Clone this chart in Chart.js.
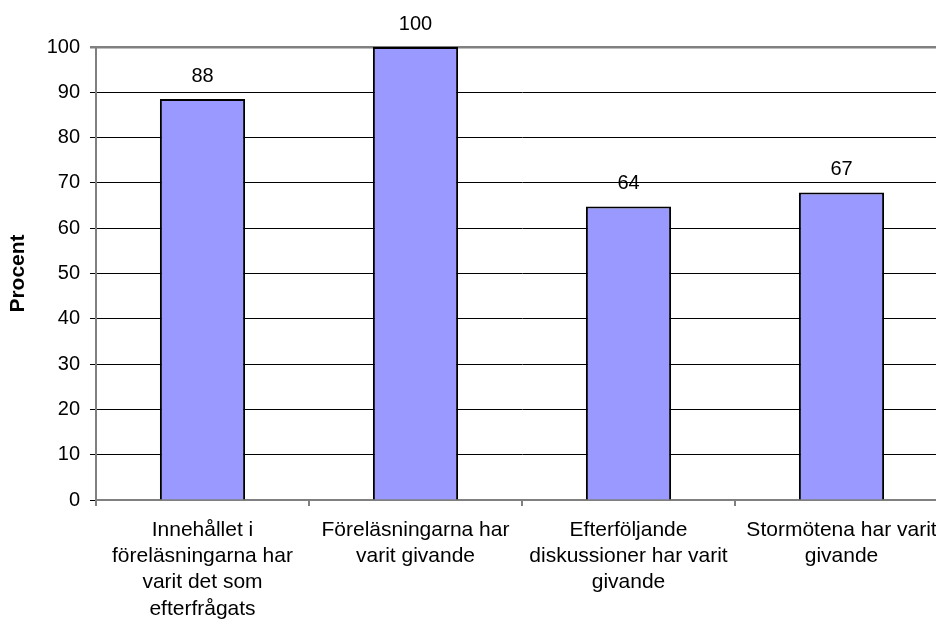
<!DOCTYPE html>
<html>
<head>
<meta charset="utf-8">
<script src="https://cdn.jsdelivr.net/npm/chart.js@4/dist/chart.umd.min.js"></script>
<style>
  html, body { margin: 0; padding: 0; background: #fff; overflow: hidden; }
  #wrap { position: absolute; left: 0; top: 0; width: 960px; height: 624px; }
</style>
</head>
<body>
<div id="wrap"><canvas id="chart"></canvas></div>
<script>
const categories = [
  ["Innehållet i", "föreläsningarna har", "varit det som", "efterfrågats"],
  ["Föreläsningarna har", "varit givande"],
  ["Efterföljande", "diskussioner har varit", "givande"],
  ["Stormötena har varit", "givande"]
];
const values = [88.5, 100, 64.8, 67.9];
const valueLabels = ["88", "100", "64", "67"];
const yTicks = [0, 10, 20, 30, 40, 50, 60, 70, 80, 90, 100];

const FONT = "'Liberation Sans', Arial, sans-serif";

// labels above the bars
const barLabels = {
  id: "barLabels",
  afterDatasetsDraw(chart) {
    const ctx = chart.ctx;
    const meta = chart.getDatasetMeta(0);
    ctx.save();
    ctx.font = "20px " + FONT;
    ctx.fillStyle = "#000";
    ctx.textAlign = "center";
    ctx.textBaseline = "alphabetic";
    meta.data.forEach((bar, i) => {
      ctx.fillText(valueLabels[i], bar.x, bar.y - 17);
    });
    ctx.restore();
  }
};

new Chart(document.getElementById("chart").getContext("2d"), {
  type: "bar",
  data: {
    labels: categories,
    datasets: [{
      data: values,
      backgroundColor: "#9999FF",
      borderColor: "#000",
      borderWidth: 2,
      barPercentage: 0.4,
      categoryPercentage: 1.0
    }]
  },
  options: {
    responsive: true,
    maintainAspectRatio: false,
    animation: false,
    layout: { padding: { top: 47, right: 12, bottom: 0, left: 0 } },
    plugins: {
      legend: { display: false },
      tooltip: { enabled: false }
    },
    scales: {
      x: {
        afterFit(scale) { scale.height = 124; },
        border: { color: "#808080", width: 2 },
        grid: {
          offset: true,
          drawOnChartArea: false,
          drawTicks: true,
          tickLength: 6,
          color: "#808080",
          lineWidth: 2
        },
        ticks: {
          color: "#000",
          padding: 11,
          maxRotation: 0,
          autoSkip: false,
          font: { family: FONT, size: 21, lineHeight: 1.25 }
        }
      },
      y: {
        min: 0,
        max: 100,
        afterFit(scale) { scale.width = 96; },
        afterBuildTicks(scale) { scale.ticks = yTicks.map(v => ({ value: v })); },
        border: { color: "#808080", width: 2 },
        grid: {
          color: ctx => ctx.tick && ctx.tick.value === 100 ? "#808080" : "#000",
          lineWidth: ctx => ctx.tick && ctx.tick.value === 100 ? 2.5 : 1,
          tickLength: 6
        },
        ticks: {
          color: "#000",
          padding: 10,
          font: { family: FONT, size: 20 }
        },
        title: {
          display: true,
          text: "Procent",
          color: "#000",
          padding: { top: 6, bottom: 0 },
          font: { family: FONT, size: 21, weight: "bold" }
        }
      }
    }
  },
  plugins: [barLabels]
});
</script>
</body>
</html>
